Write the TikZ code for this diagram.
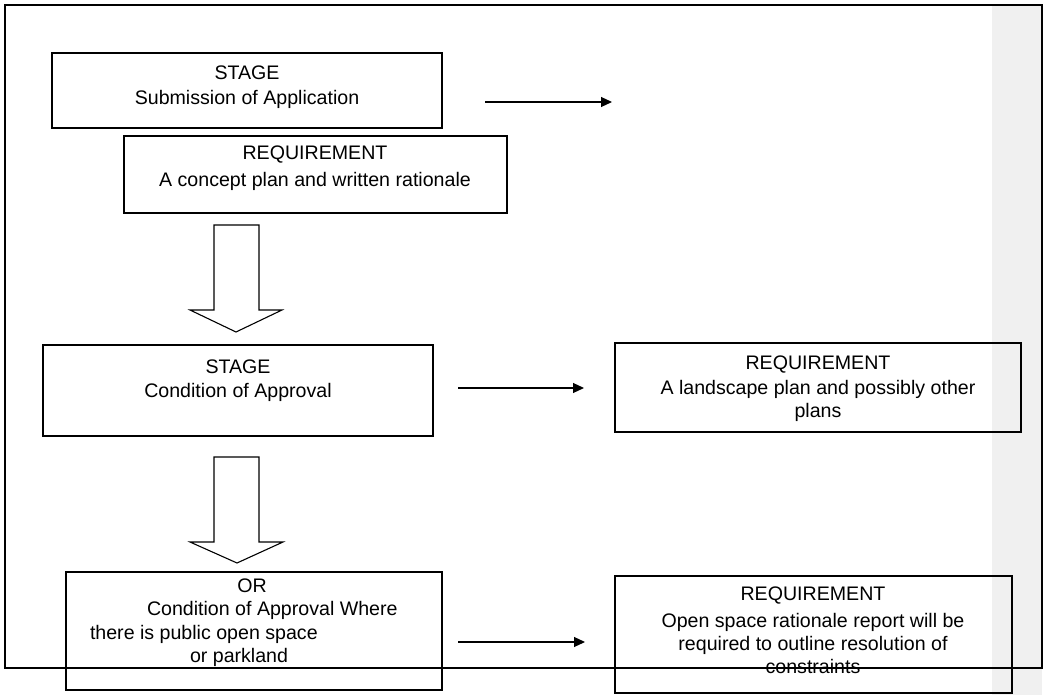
\documentclass[tikz,border=0pt]{standalone}
\usepackage{fontspec}
\setmainfont{Liberation Sans}
\usetikzlibrary{arrows.meta}
\begin{document}
\begin{tikzpicture}[x=1pt,y=-1pt,
  box/.style={draw=black,line width=1.1pt,inner sep=0pt,outer sep=0pt},
  txt/.style={inner sep=0pt,outer sep=0pt,anchor=base,font=\fontsize{19.6}{24}\selectfont},
  txtl/.style={txt,anchor=base west},
  arr/.style={draw=black,line width=1.1pt,-{Triangle[length=11pt,width=10pt]}},
  blockarrow/.style={draw=black,line width=1.1pt,fill=white,line join=miter}]
\useasboundingbox (0,0) rectangle (1044,695);
% grey side band
\fill[gray!12] (992,5) rectangle (1042,695);
% outer frame
\draw[line width=1.1pt] (5,5) rectangle (1042,668);
% boxes
\path[box] (52,53) rectangle (442,128) node[midway] (b1) {};
\path[box] (124,136) rectangle (507,213) node[midway] (b2) {};
\path[box] (43,345) rectangle (433,436) node[midway] (b3) {};
\path[box] (615,343) rectangle (1021,432) node[midway] (b4) {};
\path[box] (66,572) rectangle (442,690) node[midway] (b5) {};
\path[box] (615,576) rectangle (1012,693) node[midway] (b6) {};
% texts
\node[txt] (t1a) at (247,80) {STAGE};
\node[txt] (t1b) at (247,105) {Submission of Application};
\node[txt] (t2a) at (315,160) {REQUIREMENT};
\node[txt] (t2b) at (315,187) {A concept plan and written rationale};
\node[txt] (t3a) at (238,373) {STAGE};
\node[txt] (t3b) at (238,397) {Condition of Approval};
\node[txt] (t4a) at (818,369) {REQUIREMENT};
\node[txt] (t4b) at (818,394) {A landscape plan and possibly other};
\node[txt] (t4c) at (818,417) {plans};
\node[txt] (t5a) at (252,592) {OR};
\node[txtl] (t5b) at (147,615) {Condition of Approval Where};
\node[txtl] (t5c) at (90,639) {there is public open space};
\node[txtl] (t5d) at (190,662) {or parkland};
\node[txt] (t6a) at (813,600) {REQUIREMENT};
\node[txt] (t6b) at (813,627) {Open space rationale report will be};
\node[txt] (t6c) at (813,650) {required to outline resolution of};
\node[txt] (t6d) at (813,673) {constraints};
% thin arrows
\coordinate (a1s) at (485,102);
\coordinate (a1e) at (612,102);
\coordinate (a2s) at (458,388);
\coordinate (a2e) at (584,388);
\coordinate (a3s) at (458,642);
\coordinate (a3e) at (585,642);
\draw[arr] (a1s) -- (a1e);
\draw[arr] (a2s) -- (a2e);
\draw[arr] (a3s) -- (a3e);
% block arrows
\draw[blockarrow] (214,225) -- (259,225) -- (259,310) -- (282,310) -- (236,332) -- (190,310) -- (214,310) -- cycle;
\draw[blockarrow] (214,457) -- (259,457) -- (259,542) -- (283,542) -- (237,563) -- (190,542) -- (214,542) -- cycle;
\end{tikzpicture}
\end{document}
